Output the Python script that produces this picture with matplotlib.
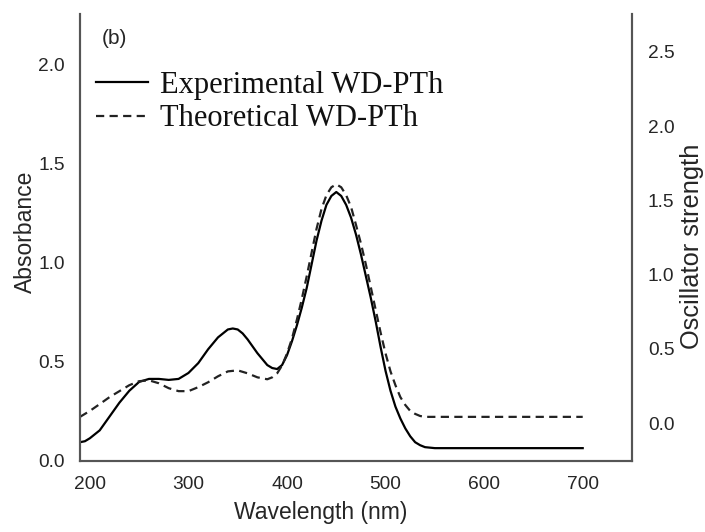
import matplotlib
matplotlib.use("Agg")
import matplotlib.pyplot as plt

# Experimental absorbance (left axis)
exp_wl = [190, 195, 200, 205, 210, 215, 220, 230, 240, 250, 260, 270, 280, 290, 300, 310, 320, 330,
          340, 345, 350, 355, 360, 365, 370, 375, 380, 385, 390, 395, 400, 405, 410, 415, 420, 425,
          430, 435, 440, 445, 450, 455, 460, 465, 470, 475, 480, 485, 490, 495, 500, 505, 510, 515,
          520, 525, 530, 535, 540, 550, 700]
exp_abs = [0.09, 0.095, 0.11, 0.13, 0.15, 0.185, 0.22, 0.29, 0.35, 0.395, 0.41, 0.41, 0.405, 0.41, 0.44,
           0.49, 0.56, 0.62, 0.66, 0.665, 0.66, 0.64, 0.61, 0.575, 0.54, 0.51, 0.48, 0.465, 0.46, 0.48,
           0.53, 0.60, 0.68, 0.77, 0.87, 0.99, 1.11, 1.21, 1.29, 1.335, 1.355, 1.335, 1.29, 1.225, 1.14,
           1.04, 0.93, 0.82, 0.70, 0.57, 0.45, 0.35, 0.27, 0.21, 0.16, 0.12, 0.09, 0.075, 0.065, 0.06, 0.06]

# Theoretical oscillator strength (right axis)
th_wl = [190, 200, 210, 220, 230, 240, 250, 260, 270, 280, 290, 300, 310, 320, 330,
         340, 350, 360, 370, 380, 385, 390, 395, 400, 405, 410, 415, 420, 425, 430, 435, 440, 445,
         450, 455, 460, 465, 470, 475, 480, 485, 490, 495, 500, 505, 510, 515, 520, 525, 530, 535,
         540, 700]
th_osc = [0.043, 0.083, 0.129, 0.176, 0.216, 0.256, 0.283, 0.289, 0.269, 0.236, 0.216, 0.216, 0.243, 0.276, 0.316,
          0.349, 0.356, 0.336, 0.309, 0.296, 0.309, 0.336, 0.389, 0.469, 0.569, 0.696, 0.836, 0.989, 1.149, 1.309,
          1.442, 1.535, 1.588, 1.608, 1.588, 1.535, 1.455, 1.335, 1.209, 1.069, 0.916, 0.762, 0.609, 0.469, 0.349,
          0.256, 0.176, 0.123, 0.083, 0.063, 0.049, 0.043, 0.043]

x_ticks = [200, 300, 400, 500, 600, 700]
left_ticks = [0.0, 0.5, 1.0, 1.5, 2.0]
right_ticks = [0.0, 0.5, 1.0, 1.5, 2.0, 2.5]

plt.rcParams['font.family'] = ['Liberation Sans', 'DejaVu Sans']
text_c = '#262626'
spine_c = '#555555'

fig = plt.figure(figsize=(7.05, 5.32), dpi=100)
ax = fig.add_axes([80/705, 1-461/532, 552/705, 447/532])
ax2 = ax.twinx()

l1, = ax.plot(exp_wl, exp_abs, color='black', lw=1.6, label='Experimental WD-PTh')
l2, = ax2.plot(th_wl, th_osc, color='#222222', lw=1.6, dashes=(3.7, 2.4), label='Theoretical WD-PTh')

ax.set_xlim(190, 750)
ax.set_ylim(-0.005, 2.255)
ax2.set_ylim(-0.254, 2.754)

ax.set_xticks(x_ticks)
ax.set_yticks(left_ticks)
ax2.set_yticks(right_ticks)
ax.set_xticklabels([str(v) for v in x_ticks])
ax.set_yticklabels([f"{v:.1f}" for v in left_ticks])
ax2.set_yticklabels([f"{v:.1f}" for v in right_ticks])

for a in (ax, ax2):
    a.tick_params(length=0, labelsize=13.8, colors=text_c)
    a.spines['top'].set_visible(False)
    for s in ('left', 'right', 'bottom'):
        a.spines[s].set_color(spine_c)
        a.spines[s].set_linewidth(1.5)
ax.tick_params(axis='y', pad=11)
ax2.tick_params(axis='y', pad=11.5)
ax.tick_params(axis='x', pad=10.5)

ax.set_xlabel('Wavelength (nm)', fontsize=16.5, color=text_c, va='center')
ax.xaxis.set_label_coords((320.5-80)/552, (461-513)/447)
ax.set_ylabel('Absorbance', fontsize=16.5, color=text_c, va='center')
ax.yaxis.set_label_coords((25-80)/552, (461-232)/447)
ax2.set_ylabel('Oscillator strength', fontsize=18.3, color=text_c, rotation=90, va='center')
ax2.yaxis.set_label_coords((692-80)/552, (461-246)/447)

ax.text(114/705, 1-38/532, '(b)', transform=fig.transFigure, fontsize=15,
        color=text_c, ha='center', va='center')

leg = ax.legend(handles=[l1, l2], loc='upper left',
                bbox_to_anchor=((96-80)/552, (461-71)/447),
                frameon=False, borderaxespad=0, borderpad=0,
                handlelength=1.7, handletextpad=0.4, labelspacing=0.14,
                prop={'family': 'Liberation Serif', 'size': 22})
for t in leg.get_texts():
    t.set_color('#111111')

fig.savefig('out.png', dpi=100)
